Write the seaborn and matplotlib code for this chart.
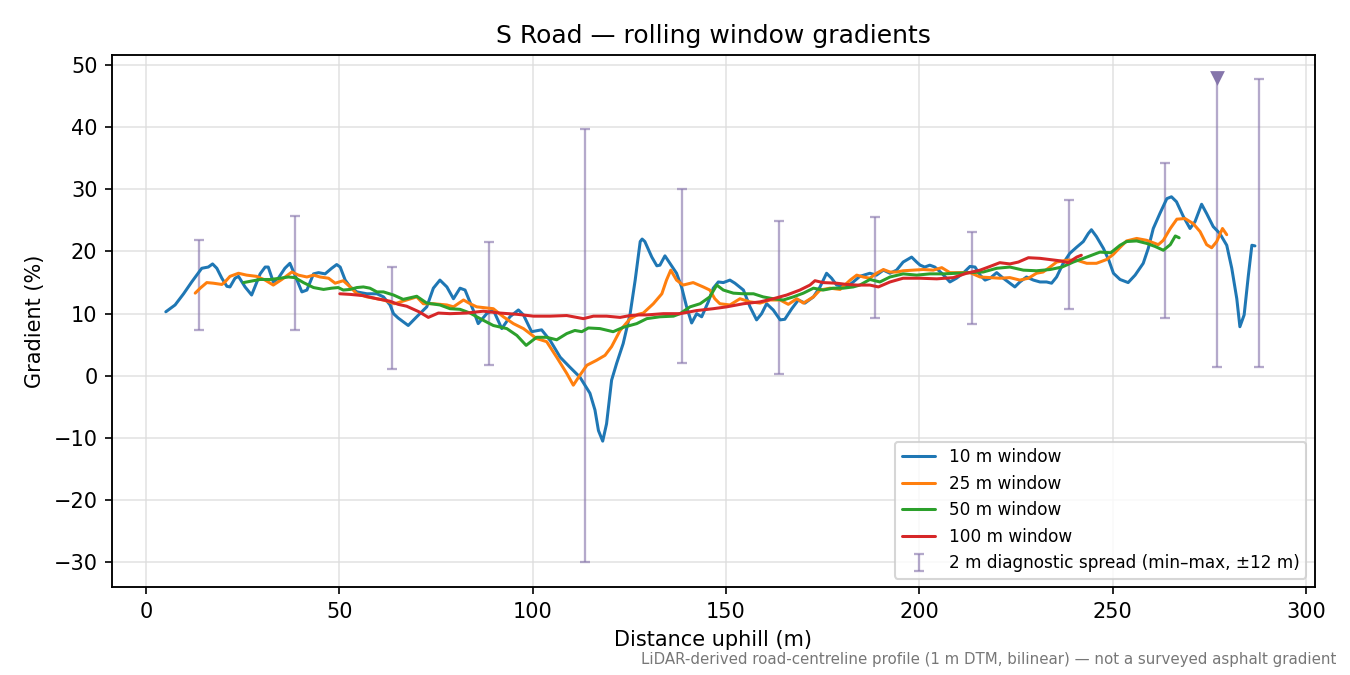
import numpy as np
import pandas as pd
import matplotlib
matplotlib.use("Agg")
import matplotlib.pyplot as plt
import seaborn as sns

# ---------------- data ----------------
w10_x = [5.1, 7.5, 9.7, 11.8, 13.1, 14.4, 16.1, 17.2, 18.3, 19.6, 20.9, 21.7, 23.0, 23.9, 25.6, 27.3,
         29.5, 30.8, 31.6, 32.9, 34.2, 35.9, 37.2, 38.5, 40.3, 41.6, 43.3, 44.6, 46.3, 48.0, 49.3, 50.2,
         51.5, 52.8, 54.5, 57.1, 59.7, 61.4, 63.1, 64.0, 65.2, 67.8, 70.0, 72.6, 74.3, 76.0, 77.8, 79.5,
         81.2, 82.5, 84.6, 85.9, 88.1, 89.8, 92.0, 94.1, 96.3, 97.6, 99.7, 101.4, 102.3, 104.5, 107.1,
         109.6, 112.2, 114.8, 116.1, 117.0, 118.1, 119.1, 120.4, 121.7, 123.4, 125.2, 126.5, 127.8, 128.3,
         129.0, 130.8, 132.1, 132.9, 134.2, 135.5, 137.2, 138.5, 139.8, 141.1, 142.4, 143.7, 145.4, 146.7,
         148.0, 149.3, 151.0, 152.3, 154.5, 156.2, 157.9, 159.2, 160.5, 162.2, 164.0, 165.2, 167.0, 168.7,
         170.4, 172.6, 174.3, 176.0, 177.3, 178.6, 181.2, 182.9, 184.6, 187.2, 188.9, 190.7, 192.4, 194.1,
         195.8, 198.0, 199.3, 200.2, 201.4, 202.7, 204.0, 205.8, 207.9, 209.6, 211.3, 213.1, 214.4, 215.7,
         217.0, 218.3, 220.0, 221.7, 223.4, 224.7, 226.0, 227.7, 229.5, 231.2, 232.9, 234.2, 235.5, 237.2,
         238.9, 240.7, 242.4, 243.7, 244.5, 245.8, 247.6, 249.0, 250.2, 251.9, 254.0, 255.8, 257.9, 259.2,
         260.5, 262.2, 264.0, 265.2, 266.5, 268.3, 270.0, 271.3, 273.0, 274.3, 276.0, 277.7, 279.5, 280.8,
         282.1, 282.9, 284.0, 285.1, 286.0, 286.8]
w10_y = [10.3, 11.4, 13.2, 15.1, 16.2, 17.3, 17.5, 18.0, 17.3, 15.7, 14.4, 14.3, 15.7, 16.0, 14.3, 13.0,
         16.4, 17.5, 17.5, 15.1, 15.7, 17.3, 18.1, 16.2, 13.5, 13.8, 16.4, 16.6, 16.4, 17.3, 17.9, 17.5,
         15.4, 14.3, 13.5, 13.2, 13.2, 12.7, 11.4, 10.0, 9.3, 8.1, 9.5, 11.1, 14.1, 15.4, 14.3, 12.4,
         14.1, 13.8, 10.6, 8.4, 10.0, 10.6, 7.6, 9.5, 10.6, 9.8, 7.1, 7.3, 7.4, 5.7, 3.0,
         1.4, -0.2, -2.8, -5.5, -8.8, -10.5, -7.7, -0.7, 2.0, 5.2, 10.0, 15.4, 21.6, 22.0,
         21.6, 19.1, 17.7, 17.8, 19.3, 18.1, 16.5, 14.3, 11.1, 8.5, 10.0, 9.5, 11.9, 14.1,
         15.1, 15.0, 15.4, 14.9, 13.8, 11.1, 9.0, 10.0, 11.6, 10.6, 9.0, 9.1, 10.8, 12.2,
         11.7, 12.7, 14.3, 16.5, 15.7, 14.6, 14.3, 15.1, 16.0, 16.5, 16.2, 17.0, 16.5, 17.0,
         18.3, 19.1, 18.3, 17.8, 17.5, 17.8, 17.5, 16.5, 15.1, 15.7, 16.5, 17.6, 17.5, 16.2,
         15.4, 15.7, 16.6, 15.7, 14.9, 14.3, 15.1, 15.9, 15.4, 15.1, 15.1, 14.9, 15.9, 18.1,
         19.7, 20.7, 21.6, 22.9, 23.5, 22.4, 20.5, 18.6, 16.5, 15.5, 15.0, 16.2, 18.1, 20.5,
         23.7, 26.1, 28.5, 28.8, 28.0, 25.6, 23.7, 24.8, 27.6, 26.1, 24.0, 22.9, 21.0, 17.3,
         12.4, 7.9, 9.8, 16.2, 21.0, 20.9]

w25_x = [12.7, 14.0, 15.7, 17.4, 19.6, 20.4, 21.7, 23.9, 26.0, 28.6, 30.8, 32.9, 35.1, 37.7, 39.4, 41.6,
         43.3, 45.0, 47.2, 48.9, 51.0, 52.8, 54.5, 57.1, 59.7, 61.4, 64.3, 67.4, 70.0, 71.7, 74.3, 77.8,
         79.5, 82.1, 83.8, 85.5, 89.8, 92.4, 95.0, 97.6, 101.0, 103.6, 106.2, 108.8, 110.5, 112.2, 114.0,
         116.5, 118.7, 120.4, 122.6, 125.2, 127.3, 128.6, 131.2, 133.4, 134.6, 135.7, 137.2, 138.9, 141.5,
         144.1, 145.8, 147.1, 148.4, 151.0, 153.6, 156.2, 158.8, 161.4, 164.0, 166.1, 168.3, 170.0, 172.6,
         174.3, 176.9, 179.5, 182.1, 183.8, 185.5, 187.2, 188.9, 190.7, 192.4, 194.1, 195.8, 198.4, 201.0,
         203.6, 205.8, 207.9, 210.5, 213.1, 215.7, 218.3, 220.8, 223.4, 226.0, 228.2, 230.3, 232.0, 233.8,
         235.5, 238.1, 240.7, 243.3, 245.8, 248.4, 250.1, 251.8, 253.6, 256.2, 258.8, 261.8, 263.1, 264.9,
         266.6, 268.7, 270.8, 272.6, 274.3, 275.6, 276.9, 278.4, 279.5]
w25_y = [13.3, 14.1, 15.0, 14.9, 14.7, 15.1, 16.0, 16.5, 16.2, 16.0, 15.4, 14.6, 15.5, 16.7, 16.2, 15.9,
         16.2, 15.9, 15.7, 14.9, 15.3, 14.3, 13.2, 12.7, 12.4, 12.2, 11.6, 12.2, 12.7, 11.6, 11.6, 11.4,
         11.1, 12.2, 11.6, 11.1, 10.8, 9.5, 8.4, 7.6, 6.0, 5.5, 3.0, 0.4, -1.5, 0.1, 1.7,
         2.5, 3.3, 4.7, 7.3, 9.2, 9.9, 10.1, 11.6, 13.2, 15.4, 17.0, 15.4, 14.6, 15.0,
         14.3, 13.8, 12.4, 11.6, 11.4, 12.4, 11.9, 11.7, 12.2, 12.2, 11.5, 12.4, 11.7, 12.7,
         13.8, 14.1, 13.9, 15.4, 16.2, 15.9, 15.7, 16.5, 17.1, 16.7, 16.7, 16.9, 17.0, 17.1,
         17.0, 17.4, 16.6, 16.6, 16.6, 15.9, 15.8, 15.7, 15.8, 15.4, 15.7, 16.5, 16.7, 17.5,
         18.3, 18.6, 18.6, 18.1, 18.1, 18.7, 19.5, 20.6, 21.7, 22.1, 21.8, 21.1, 21.8, 23.7,
         25.2, 25.3, 24.5, 23.2, 21.1, 20.6, 21.6, 23.7, 22.7]

w50_x = [25.2, 26.9, 29.5, 32.1, 34.7, 36.8, 38.5, 40.7, 43.3, 45.9, 48.0, 49.7, 51.0, 52.8, 54.5, 56.2,
         57.9, 59.7, 61.4, 64.0, 66.5, 70.0, 72.6, 76.0, 78.6, 81.2, 83.8, 86.4, 89.8, 93.3, 95.9, 98.3,
         101.0, 103.6, 106.2, 108.8, 110.9, 112.7, 114.4, 117.4, 120.8, 123.4, 126.9, 129.5, 132.9, 136.4,
         138.1, 140.7, 143.3, 145.8, 147.6, 149.3, 151.9, 154.5, 157.1, 159.6, 162.2, 164.8, 167.4, 170.0,
         172.6, 175.1, 177.7, 180.3, 182.9, 184.6, 187.2, 189.8, 192.4, 195.8, 199.3, 202.7, 206.2, 209.6,
         213.1, 216.5, 220.0, 223.4, 226.9, 230.3, 233.8, 236.9, 239.8, 243.3, 246.7, 249.5, 251.9, 253.6,
         256.2, 258.8, 261.0, 263.1, 264.9, 266.2, 267.2]
w50_y = [15.0, 15.2, 15.5, 15.5, 15.7, 15.9, 15.8, 15.0, 14.2, 13.9, 14.1, 14.2, 13.8, 13.9, 14.2, 14.3,
         14.1, 13.5, 13.5, 13.0, 12.3, 12.8, 11.7, 11.4, 10.8, 10.7, 10.1, 9.2, 8.1, 7.6, 6.5, 4.9,
         6.2, 6.2, 5.8, 6.8, 7.3, 7.1, 7.7, 7.6, 7.1, 7.8, 8.4, 9.2, 9.5, 9.6,
         10.0, 11.1, 11.6, 12.7, 14.6, 13.8, 13.3, 13.2, 13.2, 12.7, 12.4, 12.2, 12.7, 13.3,
         14.1, 13.8, 14.1, 14.1, 14.3, 14.6, 15.5, 15.1, 15.9, 16.4, 16.2, 16.4, 16.4, 16.5,
         16.6, 16.7, 17.3, 17.5, 17.0, 16.9, 17.1, 17.5, 18.3, 19.1, 19.9, 19.8, 21.0, 21.6,
         21.7, 21.3, 20.8, 20.2, 21.1, 22.5, 22.2]

w100_x = [50.1, 52.8, 56.2, 59.7, 63.1, 65.2, 67.4, 70.6, 73.0, 75.6, 78.6, 82.9, 87.2, 91.5, 95.9, 100.2,
          104.5, 108.8, 111.4, 113.1, 115.7, 119.1, 122.6, 125.2, 127.6, 129.5, 133.8, 138.1, 142.4, 146.7,
          150.2, 154.5, 158.8, 162.2, 165.7, 169.1, 171.7, 173.0, 175.1, 178.6, 181.2, 183.8, 187.2, 189.4,
          192.4, 195.8, 200.2, 204.5, 208.8, 212.2, 215.7, 218.3, 220.8, 223.4, 225.6, 228.2, 231.2, 233.8,
          236.4, 238.5, 240.7, 241.9]
w100_y = [13.2, 13.1, 12.9, 12.4, 12.0, 11.5, 11.2, 10.3, 9.4, 10.1, 10.0, 10.1, 10.4, 10.1, 9.9, 9.6,
          9.6, 9.7, 9.4, 9.2, 9.6, 9.6, 9.4, 9.7, 9.8, 9.8, 10.0, 10.0, 10.5, 10.8,
          11.1, 11.6, 11.9, 12.4, 13.0, 13.8, 14.6, 15.3, 15.0, 14.9, 14.7, 14.6, 14.6, 14.3,
          15.1, 15.7, 15.7, 15.6, 15.8, 16.5, 17.0, 17.6, 18.2, 18.0, 18.3, 19.0, 18.9, 18.7,
          18.5, 18.2, 19.1, 19.4]

spread_x = [13.6, 38.6, 63.6, 88.6, 113.6, 138.6, 163.6, 188.6, 213.6, 238.6, 263.6, 277.0, 287.8]
spread_min = [7.3, 7.3, 1.1, 1.7, -30.0, 2.0, 0.3, 9.3, 8.3, 10.7, 9.3, 1.4, 1.4]
spread_max = [21.8, 25.7, 17.5, 21.5, 39.7, 30.0, 24.9, 25.5, 23.1, 28.3, 34.2, 48.5, 47.7]
clip_x = [277.0]
clip_y = [47.9]

labels = ["10 m window", "25 m window", "50 m window", "100 m window"]

# ---------------- build frame ----------------
frames = []
for lab, xs, ys in zip(labels, [w10_x, w25_x, w50_x, w100_x], [w10_y, w25_y, w50_y, w100_y]):
    frames.append(pd.DataFrame({"dist": xs, "grad": ys, "window": lab}))
df = pd.concat(frames, ignore_index=True)

sns.set_style("ticks")
plt.rcParams["font.family"] = ["DejaVu Sans"]
plt.rcParams["axes.edgecolor"] = "black"
plt.rcParams["xtick.color"] = "black"
plt.rcParams["ytick.color"] = "black"
plt.rcParams["text.color"] = "black"
plt.rcParams["axes.labelcolor"] = "black"

fig, ax = plt.subplots(figsize=(9, 4.5), dpi=150)
fig.subplots_adjust(left=0.083, right=0.974, top=0.9185, bottom=0.130)

palette = dict(zip(labels, ["#1f77b4", "#ff7f0e", "#2ca02c", "#d62728"]))
sns.lineplot(data=df, x="dist", y="grad", hue="window", palette=palette,
             hue_order=labels, linewidth=1.45, ax=ax, estimator=None, sort=True)

sx = np.array(spread_x)
smin = np.array(spread_min)
smax = np.array(spread_max)
mid = (smin + smax) / 2
ax.errorbar(sx, mid, yerr=[mid - smin, smax - mid], fmt="none",
            ecolor="#8c7bb0", alpha=0.65, elinewidth=1.1, capsize=2.5,
            capthick=1.1, label="2 m diagnostic spread (min–max, ±12 m)", zorder=1)
ax.scatter(clip_x, clip_y, marker="v", s=50, color="#8575ab", zorder=4, linewidths=0)

ax.set_xlim(-8.8, 302.3)
ax.set_ylim(-34.0, 51.6)
ax.set_xticks([0, 50, 100, 150, 200, 250, 300])
ax.set_yticks([-30, -20, -10, 0, 10, 20, 30, 40, 50])
ax.grid(True, color="#dddddd", linewidth=0.8, alpha=0.8)
ax.set_axisbelow(True)
for s in ax.spines.values():
    s.set_visible(True)
    s.set_linewidth(0.9)

ax.set_xlabel("Distance uphill (m)", fontsize=10)
ax.set_ylabel("Gradient (%)", fontsize=10)
ax.set_title("S Road — rolling window gradients", fontsize=12)
ax.tick_params(labelsize=10, length=3.5, width=0.8)

handles, labs = ax.get_legend_handles_labels()
ax.legend(handles, labs, loc="lower right", fontsize=8.1, frameon=True,
          framealpha=0.8, edgecolor="#cccccc")

fig.text(0.99, 0.012, "LiDAR-derived road-centreline profile (1 m DTM, bilinear) — not a surveyed asphalt gradient",
         ha="right", va="bottom", fontsize=7.2, color="#777777")

fig.savefig("out.png", dpi=150)
